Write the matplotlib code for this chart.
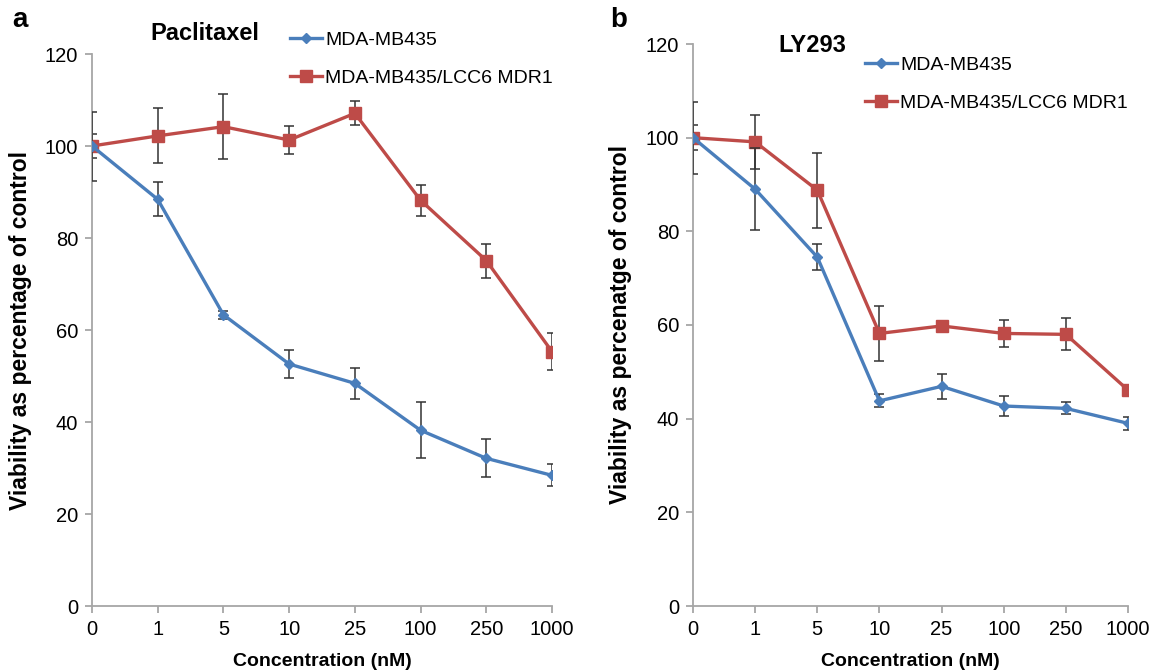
import matplotlib.pyplot as plt

plt.rcParams['font.family'] = ['Liberation Sans', 'DejaVu Sans']

conc = ['0', '1', '5', '10', '25', '100', '250', '1000']

# panel a - paclitaxel
a_wt = [100, 88.4, 63.3, 52.6, 48.4, 38.2, 32.1, 28.4]
a_wt_err = [7.5, 3.7, 0.8, 3.0, 3.3, 6.1, 4.1, 2.4]
a_mdr = [100, 102.2, 104.2, 101.3, 107.1, 88.2, 75.1, 55.3]
a_mdr_err = [2.6, 6.0, 7.0, 3.0, 2.6, 3.4, 3.7, 4.0]

# panel b - LY293
b_wt = [100, 89.0, 74.5, 43.8, 46.9, 42.7, 42.2, 39.0]
b_wt_err = [7.7, 8.7, 2.8, 1.4, 2.7, 2.1, 1.3, 1.4]
b_mdr = [100, 99.1, 88.8, 58.2, 59.8, 58.2, 58.0, 46.1]
b_mdr_err = [2.6, 5.7, 8.0, 5.8, 0.6, 2.8, 3.4, 0.5]

blue = '#4a7ebb'
red = '#be4b48'
gray = '#a6a6a6'

fig = plt.figure(figsize=(11.56, 6.72), dpi=100)
ax1 = fig.add_axes([92/1156, 1-606/672, 460/1156, 552/672])
ax2 = fig.add_axes([693/1156, 1-606/672, 435/1156, 562/672])


def draw(ax, wt, wt_err, mdr, mdr_err, title, title_xy, leg_xy, ylab, ylab_x):
    x = list(range(len(conc)))
    ax.errorbar(x, wt, yerr=wt_err, color=blue, lw=2.4, marker='D', ms=5.5,
                ecolor='#333333', elinewidth=1.1, capsize=3.5, capthick=1.1,
                label='MDA-MB435', zorder=3)
    ax.errorbar(x, mdr, yerr=mdr_err, color=red, lw=2.4, marker='s', ms=8.5,
                ecolor='#333333', elinewidth=1.1, capsize=3.5, capthick=1.1,
                label='MDA-MB435/LCC6 MDR1', zorder=2)
    ax.set_xlim(0, len(conc) - 1)
    ax.set_ylim(0, 120)
    ax.set_xticks(x)
    ax.set_xticklabels(conc)
    ax.set_yticks(range(0, 121, 20))
    for s in ['top', 'right']:
        ax.spines[s].set_visible(False)
    for s in ['left', 'bottom']:
        ax.spines[s].set_color(gray)
        ax.spines[s].set_linewidth(1.3)
    ax.tick_params(direction='out', length=5, width=1.3, color=gray,
                   labelsize=14.5, pad=5)
    ax.set_xlabel('Concentration (nM)', fontsize=14, fontweight='bold', labelpad=10)
    ax.set_ylabel(ylab, fontsize=16.5, fontweight='bold')
    ax.yaxis.set_label_coords(ylab_x, 0.5)
    ax.text(title_xy[0], title_xy[1], title, transform=fig.transFigure,
            fontsize=17, fontweight='bold', ha='left', va='center')
    h, l = ax.get_legend_handles_labels()
    h = [hh[0] for hh in h]
    ax.legend(h, l, loc='upper left', bbox_to_anchor=leg_xy,
              bbox_transform=fig.transFigure, frameon=False, fontsize=14,
              handlelength=1.65, handletextpad=0.15, labelspacing=1.05,
              borderpad=0, borderaxespad=0)


draw(ax1, a_wt, a_wt_err, a_mdr, a_mdr_err, 'Paclitaxel', (150/1156, 1-33/672),
     (290/1156, 1-31/672), 'Viability as percentage of control', -0.1315)
draw(ax2, b_wt, b_wt_err, b_mdr, b_mdr_err, 'LY293', (778/1156, 1-46/672),
     (865/1156, 1-56/672), 'Viability as percenatge of control', -0.141)

fig.text(12/1156, 1-20/672, 'a', fontsize=20, fontweight='bold', ha='left', va='center')
fig.text(610/1156, 1-20/672, 'b', fontsize=20, fontweight='bold', ha='left', va='center')

fig.savefig('out.png', dpi=100)
